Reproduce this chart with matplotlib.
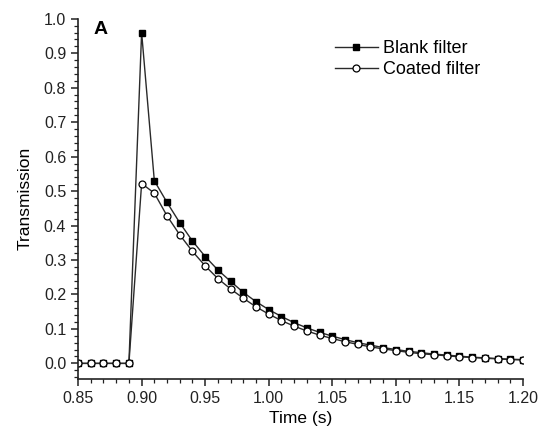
import numpy as np
import matplotlib.pyplot as plt
from matplotlib.ticker import MultipleLocator

plt.rcParams['font.family'] = ['Liberation Sans', 'DejaVu Sans']

# time axis, one sample every 10 ms
time_s = [0.85, 0.86, 0.87, 0.88, 0.89, 0.90, 0.91, 0.92, 0.93, 0.94,
          0.95, 0.96, 0.97, 0.98, 0.99, 1.00, 1.01, 1.02, 1.03, 1.04,
          1.05, 1.06, 1.07, 1.08, 1.09, 1.10, 1.11, 1.12, 1.13, 1.14,
          1.15, 1.16, 1.17, 1.18, 1.19, 1.20]

blank = [0.0, 0.0, 0.0, 0.0, 0.0, 0.960, 0.530, 0.467, 0.408, 0.355,
         0.310, 0.271, 0.238, 0.206, 0.179, 0.156, 0.136, 0.118, 0.103, 0.090,
         0.079, 0.069, 0.060, 0.053, 0.046, 0.040, 0.035, 0.031, 0.027, 0.024,
         0.021, 0.018, 0.016, 0.014, 0.012, 0.011]

coated = [0.0, 0.0, 0.0, 0.0, 0.0, 0.522, 0.494, 0.428, 0.373, 0.325,
          0.283, 0.246, 0.216, 0.189, 0.164, 0.143, 0.124, 0.108, 0.094, 0.082,
          0.072, 0.063, 0.055, 0.048, 0.042, 0.037, 0.032, 0.028, 0.025, 0.022,
          0.019, 0.017, 0.015, 0.013, 0.011, 0.010]

fig = plt.figure(figsize=(5.42, 4.37), dpi=100)
ax = fig.add_axes([0.144, 0.133, 0.821, 0.824])

line_col = '#2a2a2a'
ax.plot(time_s, blank, '-s', color=line_col, lw=1.0, ms=4.5,
        mfc='black', mec='black', label='Blank filter')
ax.plot(time_s, coated, '-o', color=line_col, lw=1.0, ms=5,
        mfc='white', mec='black', mew=0.9, label='Coated filter')

ax.set_xlim(0.85, 1.20)
ax.set_ylim(-0.045, 1.0)
ax.xaxis.set_major_locator(MultipleLocator(0.05))
ax.xaxis.set_minor_locator(MultipleLocator(0.01))
ax.yaxis.set_major_locator(MultipleLocator(0.1))
ax.yaxis.set_minor_locator(MultipleLocator(0.02))
ax.xaxis.set_major_formatter(plt.FormatStrFormatter('%.2f'))
ax.yaxis.set_major_formatter(plt.FormatStrFormatter('%.1f'))

for s in ['top', 'right']:
    ax.spines[s].set_visible(False)
for s in ['left', 'bottom']:
    ax.spines[s].set_linewidth(1.2)
    ax.spines[s].set_color('#222222')

ax.tick_params(which='major', direction='out', length=5, width=1.1,
               labelsize=11.5, colors='#222222')
ax.tick_params(which='minor', direction='out', length=3, width=0.9,
               colors='#222222')

ax.set_xlabel('Time (s)', fontsize=12.5, labelpad=4)
ax.set_ylabel('Transmission', fontsize=12.5, labelpad=8)

ax.text(0.8625, 0.995, 'A', fontsize=14, fontweight='bold', va='top')

ax.legend(loc='upper left', bbox_to_anchor=(0.54, 0.985), frameon=False,
          fontsize=13, handlelength=2.4, handletextpad=0.3,
          labelspacing=0.2)

fig.savefig('out.png', dpi=100)
